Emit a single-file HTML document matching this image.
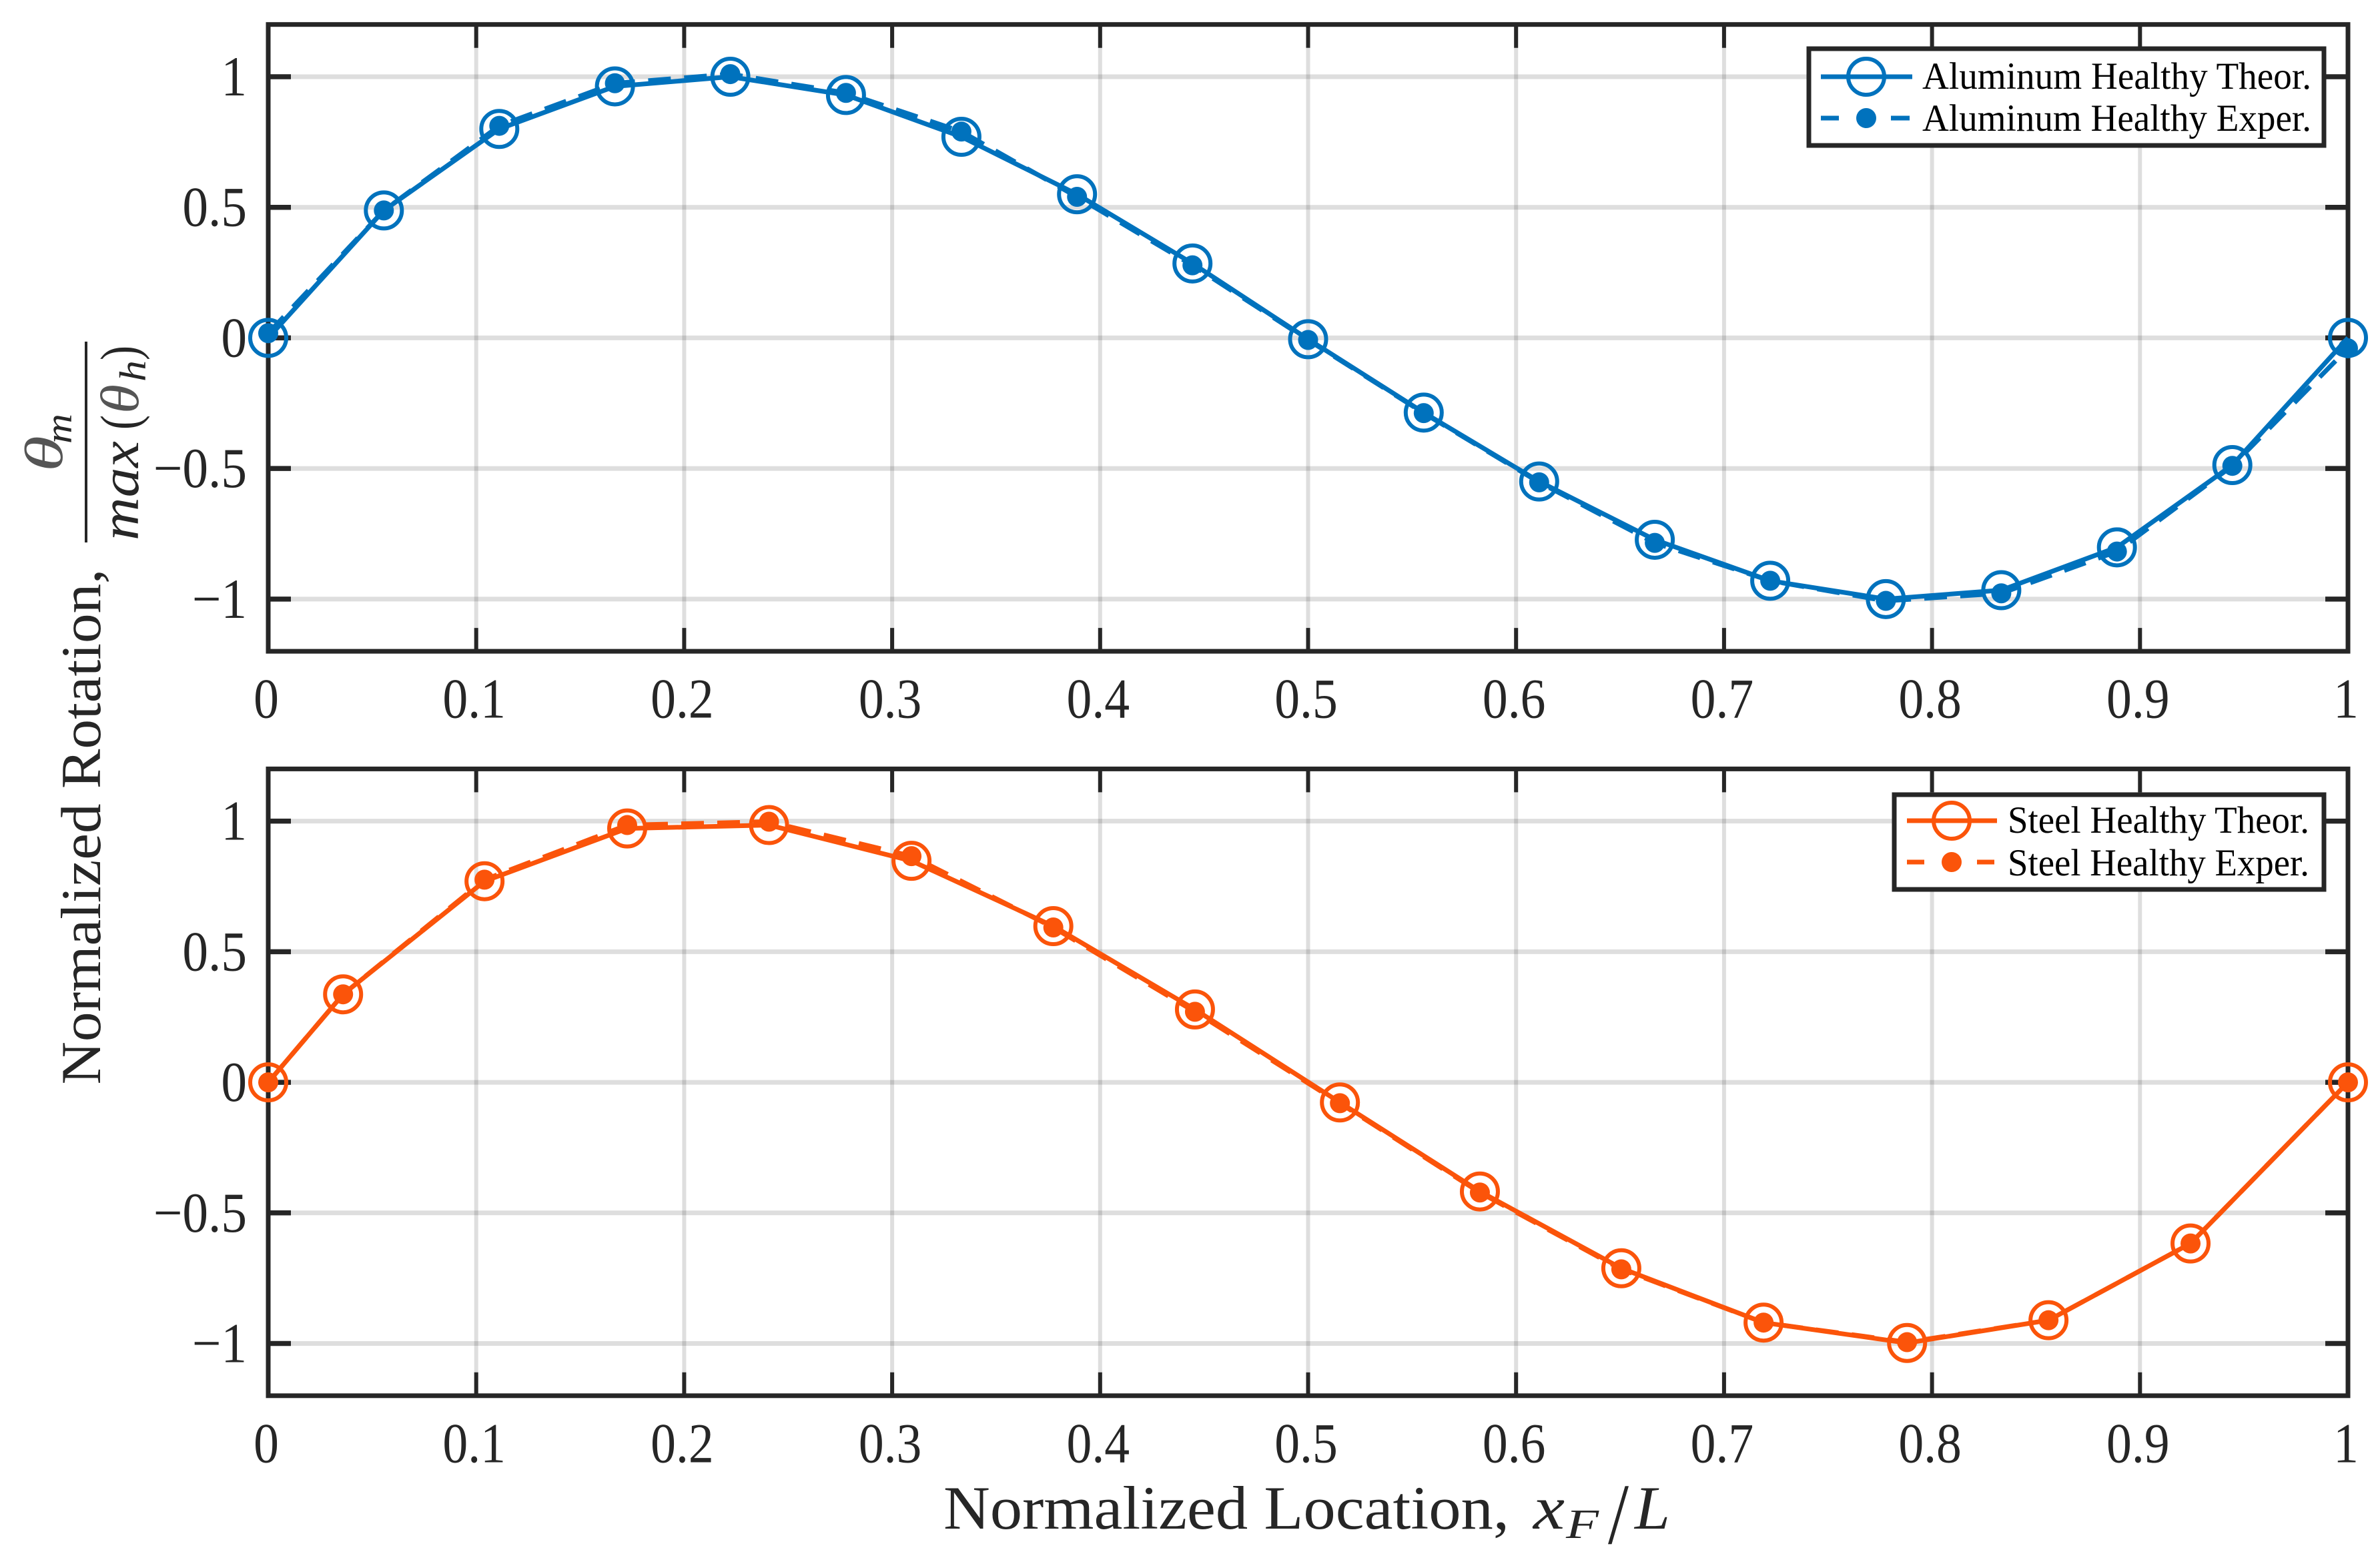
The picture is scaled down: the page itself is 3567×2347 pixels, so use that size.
<!DOCTYPE html>
<html lang="en">
<head>
<meta charset="utf-8">
<title>Normalized Rotation vs Normalized Location</title>
<style>
html,body{margin:0;padding:0;background:#fff;}
svg{display:block;}
text{font-family:"Liberation Serif","DejaVu Serif",serif;}
</style>
</head>
<body>
<svg id="chart" xmlns="http://www.w3.org/2000/svg" width="3567" height="2347" viewBox="0 0 3567 2347">
  <rect x="0" y="0" width="3567" height="2347" fill="#ffffff"/>
  <g id="top-panel"></g>
  <g id="bottom-panel"></g>

  <g>
    <rect x="2711" y="73" width="772" height="145" fill="#ffffff" stroke="#262626" stroke-width="7"/>
    <line x1="2729" y1="115" x2="2866" y2="115" stroke="#0072bd" stroke-width="7"/>
    <circle cx="2797" cy="115" r="27" fill="none" stroke="#0072bd" stroke-width="6"/>
    <text x="2881" y="133" font-size="57" fill="#000" textLength="583" lengthAdjust="spacingAndGlyphs">Aluminum Healthy Theor.</text>
    <line x1="2729" y1="177" x2="2756" y2="177" stroke="#0072bd" stroke-width="7"/>
    <line x1="2834" y1="177" x2="2862" y2="177" stroke="#0072bd" stroke-width="7"/>
    <circle cx="2797" cy="177" r="15" fill="#0072bd"/>
    <text x="2881" y="196" font-size="57" fill="#000" textLength="583" lengthAdjust="spacingAndGlyphs">Aluminum Healthy Exper.</text>
  </g>

  <g>
    <rect x="2839" y="1191" width="644" height="142" fill="#ffffff" stroke="#262626" stroke-width="7"/>
    <line x1="2858" y1="1230" x2="2993" y2="1230" stroke="#fb540a" stroke-width="7"/>
    <circle cx="2925" cy="1230" r="27" fill="none" stroke="#fb540a" stroke-width="6"/>
    <text x="3009" y="1248" font-size="57" fill="#000" textLength="452" lengthAdjust="spacingAndGlyphs">Steel Healthy Theor.</text>
    <line x1="2858" y1="1292" x2="2884" y2="1292" stroke="#fb540a" stroke-width="7"/>
    <line x1="2963" y1="1292" x2="2989" y2="1292" stroke="#fb540a" stroke-width="7"/>
    <circle cx="2925" cy="1292" r="15" fill="#fb540a"/>
    <text x="3009" y="1312" font-size="57" fill="#000" textLength="452" lengthAdjust="spacingAndGlyphs">Steel Healthy Exper.</text>
  </g>

  <g fill="#262626">
    <text x="1414" y="2291" font-size="92" textLength="848" lengthAdjust="spacingAndGlyphs">Normalized Location,</text>
    <text x="2298" y="2291" font-size="92" font-style="italic" textLength="47" lengthAdjust="spacingAndGlyphs">x</text>
    <text x="2347" y="2305" font-size="62" font-style="italic" textLength="49" lengthAdjust="spacingAndGlyphs">F</text>
    <text x="2410" y="2313" font-size="130" textLength="31" lengthAdjust="spacingAndGlyphs">/</text>
    <text x="2450" y="2291" font-size="92" font-style="italic" textLength="53" lengthAdjust="spacingAndGlyphs">L</text>
  </g>

  <g fill="#262626">
    <text transform="translate(150,1625.5) rotate(-90)" x="0" y="0" font-size="85" textLength="773" lengthAdjust="spacingAndGlyphs">Normalized Rotation,</text>
    <text transform="translate(93,707) rotate(-90)" x="0" y="0" font-size="80" font-style="italic" fill="#555555" textLength="54" lengthAdjust="spacingAndGlyphs">θ</text>
    <text transform="translate(107,665) rotate(-90)" x="0" y="0" font-size="56" font-style="italic" textLength="45" lengthAdjust="spacingAndGlyphs">m</text>
    <rect x="127" y="512" width="4" height="301" fill="#262626"/>
    <text transform="translate(207,810) rotate(-90)" x="0" y="0" font-size="82" font-style="italic" textLength="149" lengthAdjust="spacingAndGlyphs">max</text>
    <text transform="translate(207,810) rotate(-90)" x="166" y="0" font-size="82" textLength="22" lengthAdjust="spacingAndGlyphs">(</text>
    <text transform="translate(207,810) rotate(-90)" x="190" y="0" font-size="82" font-style="italic" fill="#555555" textLength="44" lengthAdjust="spacingAndGlyphs">θ</text>
    <text transform="translate(218,810) rotate(-90)" x="238" y="0" font-size="56" font-style="italic" textLength="32" lengthAdjust="spacingAndGlyphs">h</text>
    <text transform="translate(207,810) rotate(-90)" x="270" y="0" font-size="82" textLength="22" lengthAdjust="spacingAndGlyphs">)</text>
  </g>
</svg>

<script>
const xTickValues = [0, 0.1, 0.2, 0.3, 0.4, 0.5, 0.6, 0.7, 0.8, 0.9, 1];
const xTickLabels = ['0', '0.1', '0.2', '0.3', '0.4', '0.5', '0.6', '0.7', '0.8', '0.9', '1'];
const yTickValues = [1, 0.5, 0, -0.5, -1];
const yTickLabels = ['1', '0.5', '0', '\u22120.5', '\u22121'];

const aluminumX = [0, 0.0556, 0.1111, 0.1667, 0.2222, 0.2778, 0.3333, 0.3889, 0.4444, 0.5, 0.5556, 0.6111, 0.6667, 0.7222, 0.7778, 0.8333, 0.8889, 0.9444, 1];
const aluminumTheor = [0, 0.488, 0.80, 0.963, 1.0, 0.93, 0.77, 0.55, 0.285, -0.005, -0.286, -0.55, -0.773, -0.93, -1.0, -0.966, -0.802, -0.487, 0];
const aluminumExper = [0.018, 0.488, 0.812, 0.975, 1.01, 0.938, 0.79, 0.54, 0.278, -0.008, -0.288, -0.553, -0.785, -0.93, -1.007, -0.978, -0.818, -0.49, -0.04];

const steelX = [0, 0.036, 0.104, 0.1726, 0.2408, 0.3093, 0.3775, 0.4456, 0.5153, 0.5826, 0.6506, 0.719, 0.788, 0.856, 0.9243, 1];
const steelTheor = [0, 0.337, 0.77, 0.972, 0.985, 0.848, 0.598, 0.279, -0.077, -0.418, -0.712, -0.92, -0.998, -0.911, -0.617, 0];
const steelExper = [0, 0.337, 0.776, 0.985, 0.998, 0.866, 0.593, 0.27, -0.08, -0.422, -0.716, -0.92, -0.995, -0.911, -0.617, 0];

const SVG_NS = 'http://www.w3.org/2000/svg';
const INK = '#262626';

function make(tag, attrs, parent) {
  const el = document.createElementNS(SVG_NS, tag);
  Object.keys(attrs).forEach(function (k) { el.setAttribute(k, attrs[k]); });
  parent.appendChild(el);
  return el;
}

function drawPanel(parent, prefix, top, xs, theor, exper, color) {
  const left = 402, right = 3519, bottom = top + 939.4;
  const yMin = -1.2, yMax = 1.2;
  const sx = function (v) { return left + (v - 0) * (right - left); };
  const sy = function (v) { return top + (yMax - v) / (yMax - yMin) * (bottom - top); };

  xTickValues.forEach(function (v) {
    const g = make('line', { x1: sx(v), x2: sx(v), y1: top, y2: bottom, stroke: '#000', 'stroke-opacity': 0.13, 'stroke-width': 6 }, parent);
    
    
  });
  yTickValues.forEach(function (v) {
    const g = make('line', { x1: left, x2: right, y1: sy(v), y2: sy(v), stroke: '#000', 'stroke-opacity': 0.13, 'stroke-width': 7 }, parent);
    
    
  });

  xTickValues.forEach(function (v, i) {
    [[top, top + 35], [bottom, bottom - 35]].forEach(function (p) {
      const t = make('line', { x1: sx(v), x2: sx(v), y1: p[0], y2: p[1], stroke: INK, 'stroke-width': 6 }, parent);
      
      
    });
    const lab = make('text', { transform: 'translate(' + (sx(v) - 3) + ',' + (bottom + 99.5) + ') scale(0.89,1)', 'text-anchor': 'middle', 'font-size': 85, fill: INK }, parent);
    lab.textContent = xTickLabels[i];
    
    
  });

  yTickValues.forEach(function (v, i) {
    [[left, left + 34], [right, right - 34]].forEach(function (p) {
      const t = make('line', { x1: p[0], x2: p[1], y1: sy(v), y2: sy(v), stroke: INK, 'stroke-width': 7.5 }, parent);
      
      
    });
    const lab = make('text', { transform: 'translate(370,' + (sy(v) + 28) + ') scale(0.91,1)', 'text-anchor': 'end', 'font-size': 85, fill: INK }, parent);
    lab.textContent = yTickLabels[i];
    
    
  });

  const frame = make('rect', { x: left, y: top, width: right - left, height: bottom - top, fill: 'none', stroke: INK, 'stroke-width': 7 }, parent);
  
  

  const pointsOf = function (vals) {
    return vals.map(function (v, i) { return sx(xs[i]) + ',' + sy(v); }).join(' ');
  };

  const theorLine = make('polyline', { points: pointsOf(theor), fill: 'none', stroke: color, 'stroke-width': 7, 'stroke-linejoin': 'round' }, parent);
  
  

  const experLine = make('polyline', { points: pointsOf(exper), fill: 'none', stroke: color, 'stroke-width': 7, 'stroke-dasharray': '34 20' }, parent);
  
  

  theor.forEach(function (v, i) {
    const c = make('circle', { cx: sx(xs[i]), cy: sy(v), r: 27, fill: 'none', stroke: color, 'stroke-width': 6 }, parent);
    
    
  });
  exper.forEach(function (v, i) {
    const c = make('circle', { cx: sx(xs[i]), cy: sy(v), r: 15, fill: color }, parent);
    
    
  });
}

drawPanel(document.getElementById('top-panel'), 'aluminum', 36.7, aluminumX, aluminumTheor, aluminumExper, '#0072bd');
drawPanel(document.getElementById('bottom-panel'), 'steel', 1152.4, steelX, steelTheor, steelExper, '#fb540a');
</script>
</body>
</html>
